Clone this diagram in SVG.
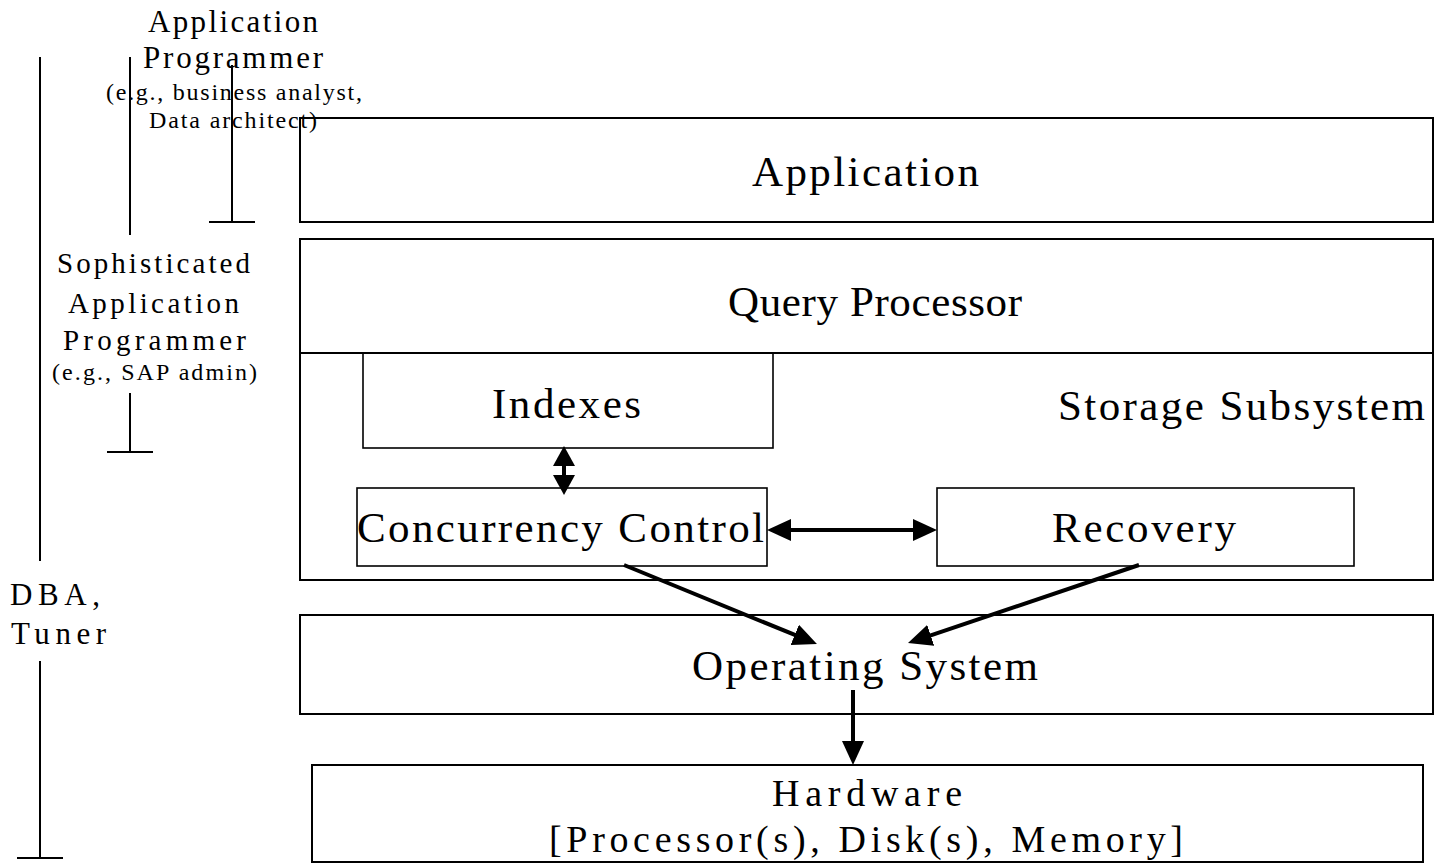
<svg xmlns="http://www.w3.org/2000/svg" width="1446" height="864" viewBox="0 0 1446 864">
  <style>
    .box { fill: none; stroke: #000; stroke-width: 2; }
    .ibox { fill: none; stroke: #000; stroke-width: 1.6; }
    .rule { stroke: #000; stroke-width: 2; fill: none; }
    .arrow { stroke: #000; stroke-width: 4; fill: none; }
    text { font-family: "Liberation Serif", "Times New Roman", serif; fill: #000; }
    .big { font-size: 43px; }
    .hw { font-size: 38px; }
    .role { font-size: 31px; }
    .role2 { font-size: 29px; }
    .small { font-size: 24px; }
  </style>
  <defs>
    <marker id="head" markerUnits="userSpaceOnUse" viewBox="0 0 24 22" markerWidth="24" markerHeight="22" refX="18" refY="11" orient="auto-start-reverse">
      <path d="M0,0 L24,11 L0,22 Z" fill="#000"/>
    </marker>
    <marker id="headS" markerUnits="userSpaceOnUse" viewBox="0 0 20 22" markerWidth="20" markerHeight="22" refX="14" refY="11" orient="auto-start-reverse">
      <path d="M0,0 L20,11 L0,22 Z" fill="#000"/>
    </marker>
  </defs>

  <g id="role-lines">
    <line class="rule" x1="40" y1="57" x2="40" y2="561"/>
    <line class="rule" x1="40" y1="661" x2="40" y2="858"/>
    <line class="rule" x1="17" y1="858" x2="63" y2="858"/>
    <line class="rule" x1="130" y1="57" x2="130" y2="235"/>
    <line class="rule" x1="232" y1="65" x2="232" y2="222"/>
    <line class="rule" x1="209" y1="222" x2="255" y2="222"/>
    <line class="rule" x1="130" y1="393" x2="130" y2="452"/>
    <line class="rule" x1="107" y1="452" x2="153" y2="452"/>
  </g>

  <g id="role-app-programmer">
    <text class="role" x="148" y="32" textLength="170" lengthAdjust="spacing">Application</text>
    <text class="role" x="143" y="68" textLength="180" lengthAdjust="spacing">Programmer</text>
    <text class="small" x="106" y="100" textLength="256" lengthAdjust="spacing">(e.g., business analyst,</text>
    <text class="small" x="149" y="128" textLength="168" lengthAdjust="spacing">Data architect)</text>
  </g>

  <g id="role-sophisticated">
    <text class="role2" x="57" y="273" textLength="193" lengthAdjust="spacing">Sophisticated</text>
    <text class="role2" x="68" y="313" textLength="171" lengthAdjust="spacing">Application</text>
    <text class="role2" x="63" y="350" textLength="183" lengthAdjust="spacing">Programmer</text>
    <text class="small" x="52" y="380" textLength="205" lengthAdjust="spacing">(e.g., SAP admin)</text>
  </g>

  <g id="role-dba">
    <text class="role" x="10" y="605" textLength="90" lengthAdjust="spacing">DBA,</text>
    <text class="role" x="11" y="644" textLength="95" lengthAdjust="spacing">Tuner</text>
  </g>

  <g id="application">
    <rect class="box" x="300" y="118" width="1133" height="104"/>
    <text class="big" x="752" y="186" textLength="227" lengthAdjust="spacing">Application</text>
  </g>

  <g id="query-storage">
    <rect class="box" x="300" y="239" width="1133" height="341"/>
    <line class="box" x1="300" y1="353" x2="1433" y2="353"/>
    <text class="big" x="728" y="316" textLength="294" lengthAdjust="spacing">Query Processor</text>
    <text class="big" x="1058" y="420" textLength="367" lengthAdjust="spacing">Storage Subsystem</text>
  </g>

  <g id="indexes">
    <rect class="ibox" x="363" y="353" width="410" height="95"/>
    <text class="big" x="492" y="418" textLength="149" lengthAdjust="spacing">Indexes</text>
  </g>

  <g id="concurrency">
    <rect class="ibox" x="357" y="488" width="410" height="78"/>
    <text class="big" x="357" y="542" textLength="407" lengthAdjust="spacing">Concurrency Control</text>
  </g>

  <g id="recovery">
    <rect class="ibox" x="937" y="488" width="417" height="78"/>
    <text class="big" x="1052" y="542" textLength="184" lengthAdjust="spacing">Recovery</text>
  </g>

  <g id="os">
    <rect class="box" x="300" y="615" width="1133" height="99"/>
    <text class="big" x="692" y="680" textLength="346" lengthAdjust="spacing">Operating System</text>
  </g>

  <g id="hardware">
    <rect class="box" x="312" y="765" width="1111" height="97"/>
    <text class="hw" x="772" y="806" textLength="190" lengthAdjust="spacing">Hardware</text>
    <text class="hw" x="549" y="852" textLength="634" lengthAdjust="spacing">[Processor(s), Disk(s), Memory]</text>
  </g>

  <g id="connectors">
    <line class="arrow" x1="564" y1="452" x2="564" y2="489" marker-start="url(#headS)" marker-end="url(#headS)"/>
    <line class="arrow" x1="773" y1="530" x2="931" y2="530" marker-start="url(#head)" marker-end="url(#head)"/>
    <line class="arrow" x1="624" y1="565" x2="811.4" y2="641.7" marker-end="url(#head)"/>
    <line class="arrow" x1="1139" y1="565" x2="913.7" y2="641.1" marker-end="url(#head)"/>
    <line class="arrow" x1="853" y1="690" x2="853" y2="759" marker-end="url(#head)"/>
  </g>
</svg>
